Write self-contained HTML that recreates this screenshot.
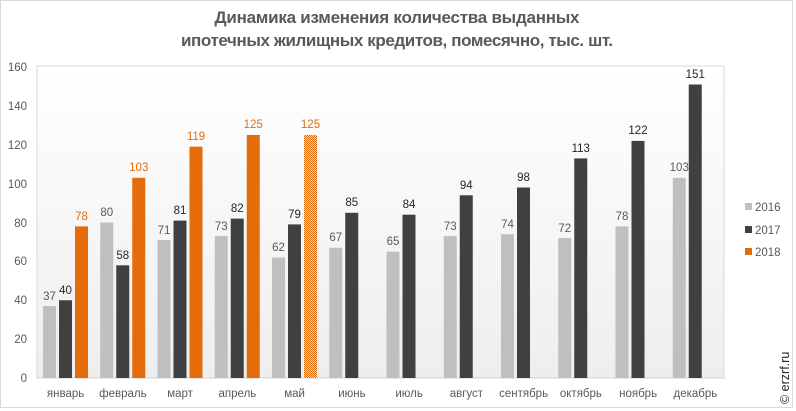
<!DOCTYPE html><html><head><meta charset="utf-8"><style>body{margin:0;background:#fff}svg{display:block}text{font-family:"Liberation Sans",sans-serif}</style></head><body>
<svg width="796" height="411" xmlns="http://www.w3.org/2000/svg">
<defs>
<linearGradient id="bg" x1="0" y1="0" x2="0" y2="1"><stop offset="0" stop-color="#fff"/><stop offset="1" stop-color="#eeeeee"/></linearGradient>
<pattern id="chk" width="2" height="2" patternUnits="userSpaceOnUse"><rect width="2" height="2" fill="#f6d2b0"/><rect width="1" height="1" fill="#e46c0a"/><rect x="1" y="1" width="1" height="1" fill="#e46c0a"/></pattern>
</defs>
<rect x="0.5" y="0.5" width="792" height="407" fill="#fff" stroke="#d9d9d9"/>
<text x="397" y="23" text-anchor="middle" font-size="17" font-weight="bold" fill="#595959" textLength="365">Динамика изменения количества выданных</text>
<text x="397" y="46" text-anchor="middle" font-size="17" font-weight="bold" fill="#595959" textLength="432">ипотечных жилищных кредитов, помесячно, тыс. шт.</text>
<rect x="37" y="66" width="687" height="312" fill="url(#bg)" stroke="#d9d9d9"/>
<line x1="37" y1="378" x2="724" y2="378" stroke="#d0d0d0"/>
<g font-size="11.5" fill="#595959" text-anchor="end">
<text x="27" y="382">0</text><text x="27" y="343">20</text><text x="27" y="304">40</text><text x="27" y="265">60</text><text x="27" y="227">80</text><text x="27" y="188">100</text><text x="27" y="149">120</text><text x="27" y="110">140</text><text x="27" y="71">160</text>
</g>
<g fill="#bfbfbf">
<rect x="43" y="306.1" width="13" height="71.9"/><rect x="100.25" y="222.5" width="13" height="155.5"/><rect x="157.5" y="240" width="13" height="138"/><rect x="214.75" y="236.1" width="13" height="141.9"/><rect x="272" y="257.5" width="13" height="120.5"/><rect x="329.25" y="247.8" width="13" height="130.2"/><rect x="386.5" y="251.7" width="13" height="126.3"/><rect x="443.75" y="236.1" width="13" height="141.9"/><rect x="501" y="234.2" width="13" height="143.8"/><rect x="558.25" y="238" width="13" height="140"/><rect x="615.5" y="226.4" width="13" height="151.6"/><rect x="672.75" y="177.8" width="13" height="200.2"/>
</g>
<g fill="#404040">
<rect x="59" y="300.25" width="13" height="77.75"/><rect x="116.25" y="265.3" width="13" height="112.7"/><rect x="173.5" y="220.6" width="13" height="157.4"/><rect x="230.75" y="218.6" width="13" height="159.4"/><rect x="288" y="224.4" width="13" height="153.6"/><rect x="345.25" y="212.8" width="13" height="165.2"/><rect x="402.5" y="214.7" width="13" height="163.3"/><rect x="459.75" y="195.3" width="13" height="182.7"/><rect x="517" y="187.5" width="13" height="190.5"/><rect x="574.25" y="158.4" width="13" height="219.6"/><rect x="631.5" y="140.9" width="13" height="237.1"/><rect x="688.75" y="84.5" width="13" height="293.5"/>
</g>
<g fill="#e46c0a">
<rect x="75" y="226.4" width="13" height="151.6"/><rect x="132.25" y="177.8" width="13" height="200.2"/><rect x="189.5" y="146.7" width="13" height="231.3"/><rect x="246.75" y="135" width="13" height="243"/>
</g>
<rect x="304" y="135" width="13" height="243" fill="url(#chk)"/>
<g font-size="11.5" text-anchor="middle" fill="#595959">
<text x="49.5" y="300">37</text><text x="106.75" y="216">80</text><text x="164" y="234">71</text><text x="221.25" y="230">73</text><text x="278.5" y="251">62</text><text x="335.75" y="241">67</text><text x="393" y="245">65</text><text x="450.25" y="230">73</text><text x="507.5" y="228">74</text><text x="564.75" y="232">72</text><text x="622" y="220">78</text><text x="679.25" y="171">103</text>
</g>
<g font-size="11.5" text-anchor="middle" fill="#262626">
<text x="65.5" y="294">40</text><text x="122.75" y="259">58</text><text x="180" y="214">81</text><text x="237.25" y="212">82</text><text x="294.5" y="218">79</text><text x="351.75" y="206">85</text><text x="409" y="208">84</text><text x="466.25" y="189">94</text><text x="523.5" y="181">98</text><text x="580.75" y="152">113</text><text x="638" y="134">122</text><text x="695.25" y="78">151</text>
</g>
<g font-size="11.5" text-anchor="middle" fill="#e46c0a">
<text x="81.5" y="220">78</text><text x="138.75" y="171">103</text><text x="196" y="140">119</text><text x="253.25" y="128">125</text><text x="310.5" y="128">125</text>
</g>
<g font-size="11.5" text-anchor="middle" fill="#595959">
<text x="65.6" y="397">январь</text><text x="122.9" y="397">февраль</text><text x="180.1" y="397">март</text><text x="237.4" y="397">апрель</text><text x="294.6" y="397">май</text><text x="351.9" y="397">июнь</text><text x="409.1" y="397">июль</text><text x="466.4" y="397">август</text><text x="523.6" y="397">сентябрь</text><text x="580.9" y="397">октябрь</text><text x="638.1" y="397">ноябрь</text><text x="695.4" y="397">декабрь</text>
</g>
<rect x="745" y="203" width="7" height="7" fill="#bfbfbf"/><rect x="745" y="226" width="7" height="7" fill="#404040"/><rect x="745" y="248" width="7" height="7" fill="#e46c0a"/>
<g font-size="11.5" fill="#595959">
<text x="755" y="211">2016</text><text x="755" y="234">2017</text><text x="755" y="256">2018</text>
</g>
<text transform="translate(789,404) rotate(-90)" font-size="12.5" fill="#262626">© erzrf.ru</text>
</svg>
</body></html>
